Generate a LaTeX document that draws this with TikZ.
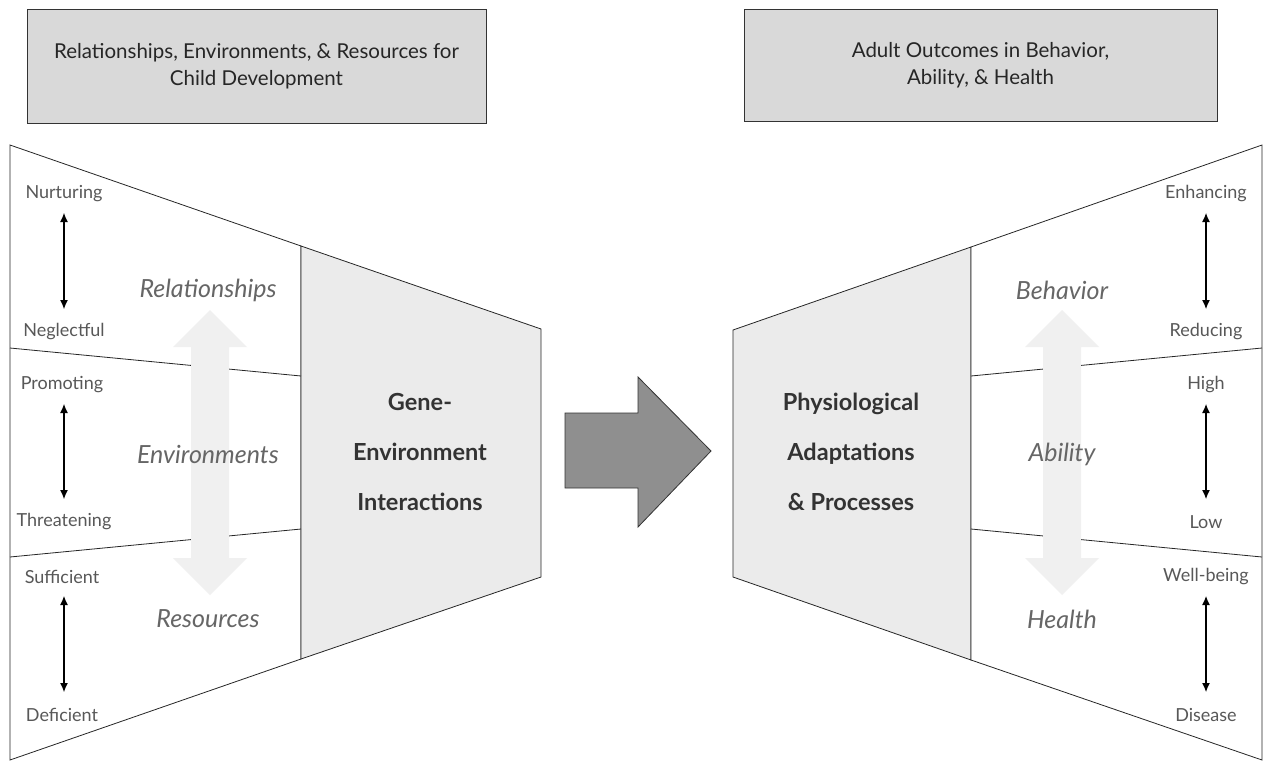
\documentclass[tikz,border=0pt]{standalone}
\usepackage{fontspec}
\setmainfont{Lato}
\usetikzlibrary{arrows.meta, positioning, calc}

\definecolor{hdrgray}{HTML}{D9D9D9}
\definecolor{coregray}{HTML}{EBEBEB}
\definecolor{flowgray}{HTML}{8F8F8F}
\definecolor{ghostgray}{HTML}{F0F0F0}
\definecolor{labgray}{HTML}{585858}
\definecolor{axisgray}{HTML}{666666}

\begin{document}
\begin{tikzpicture}[
		x=1pt, y=-1pt,
		% Estilos de cajas y textos
		header/.style = {draw=black!80, fill=hdrgray, line width=0.9pt, align=center, font=\fontsize{20.5}{27}\selectfont, text=black!85, inner sep=0pt},
		pole/.style = {font=\fontsize{18}{20}\selectfont, text=labgray, inner sep=0pt},
		axis/.style = {font=\itshape\fontsize{25}{28}\selectfont, text=axisgray, inner sep=0pt},
		core/.style = {font=\bfseries\fontsize{23.5}{50}\selectfont, text=black!80, align=center, inner sep=0pt},
		outline/.style = {draw=black!85, line width=0.8pt},
		spanarrow/.style = {{Latex[length=9pt,width=8pt]}-{Latex[length=9pt,width=8pt]}, line width=1.1pt, shorten <=19pt, shorten >=23pt}
		]
		\useasboundingbox (0,0) rectangle (1265,761);
		
		% --- ENCABEZADOS ---
		\node [header, minimum width=459pt, minimum height=114pt] (hdr_in) at (256.5,66) {Relationships, Environments, \& Resources for\\Child Development};
		\node [header, minimum width=473pt, minimum height=112pt] (hdr_out) at (980.5,65) {Adult Outcomes in Behavior,\\Ability, \& Health};
		
		% --- EMBUDO DE ENTRADA ---
		\draw [outline, fill=white] (10,145) -- (301,246) -- (301,659) -- (10,760) -- cycle;
		\draw [outline, fill=coregray] (301,246) -- (541,329) -- (541,577) -- (301,659) -- cycle;
		\draw [outline] (10,348) -- (301,376);
		\draw [outline] (10,557) -- (301,529);
		
		% Flecha tenue de fondo
		\fill [ghostgray] (191,347) -- (173,347) -- (210,310) -- (247,347) -- (229,347)
			-- (229,558) -- (247,558) -- (210,595) -- (173,558) -- (191,558) -- cycle;
		
		% --- EMBUDO DE SALIDA ---
		\draw [outline, fill=coregray] (733,330) -- (971,247) -- (971,660) -- (733,577) -- cycle;
		\draw [outline, fill=white] (971,247) -- (1262,145) -- (1262,760) -- (971,660) -- cycle;
		\draw [outline] (971,376) -- (1262,348);
		\draw [outline] (971,529) -- (1262,557);
		
		\fill [ghostgray] (1043,347) -- (1025,347) -- (1062,310) -- (1099,347) -- (1081,347)
			-- (1081,558) -- (1099,558) -- (1062,595) -- (1025,558) -- (1043,558) -- cycle;
		
		% --- FLECHA CENTRAL ---
		\draw [draw=black!80, fill=flowgray, line width=0.8pt] (565,413) -- (638,413) -- (638,377) -- (711,451)
			-- (638,527) -- (638,488) -- (565,488) -- cycle;
		
		% --- TEXTOS DEL NUCLEO ---
		\node [core] (gxe) at (420,452) {Gene-\\Environment\\Interactions};
		\node [core] (phys) at (851,452) {Physiological\\Adaptations\\\& Processes};
		
		% --- EJES DE ENTRADA ---
		\node [axis] (ax_rel) at (208,290) {Relationships};
		\node [axis] (ax_env) at (208,454) {Environments};
		\node [axis] (ax_res) at (208,619) {Resources};
		
		\node [pole] (nurt) at (64,194) {Nurturing};
		\node [pole] (negl) at (64,332) {Neglectful};
		\node [pole] (prom) at (62,385) {Promoting};
		\node [pole] (threat) at (64,522) {Threatening};
		\node [pole] (suff) at (62,577) {Sufficient};
		\node [pole] (defi) at (62,715) {Deficient};
		
		\draw [spanarrow] (nurt.center) -- (negl.center);
		\draw [spanarrow] (prom.center -| nurt) -- (threat.center -| nurt);
		\draw [spanarrow] (suff.center -| nurt) -- (defi.center -| nurt);
		
		% --- EJES DE SALIDA ---
		\node [axis] (ax_beh) at (1062,290) {Behavior};
		\node [axis] (ax_abi) at (1062,454) {Ability};
		\node [axis] (ax_hea) at (1062,619) {Health};
		
		\node [pole] (enh) at (1206,194) {Enhancing};
		\node [pole] (red) at (1206,332) {Reducing};
		\node [pole] (high) at (1206,385) {High};
		\node [pole] (low) at (1206,522) {Low};
		\node [pole] (well) at (1206,577) {Well-being};
		\node [pole] (dis) at (1206,715) {Disease};
		
		\draw [spanarrow] (enh.center) -- (red.center);
		\draw [spanarrow] (high.center) -- (low.center);
		\draw [spanarrow] (well.center) -- (dis.center);
		
	\end{tikzpicture}
\end{document}
